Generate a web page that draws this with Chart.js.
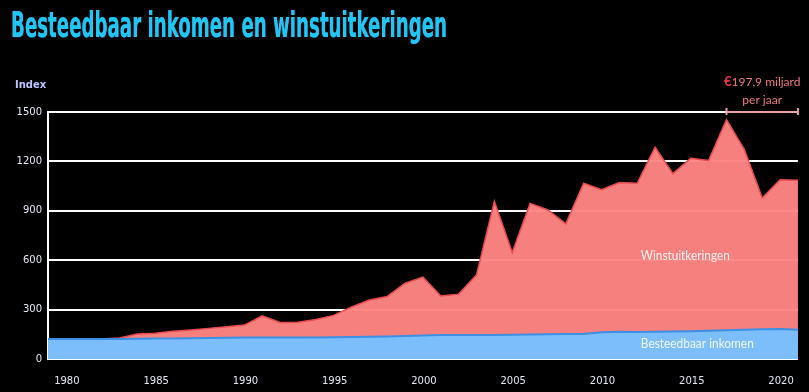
<!DOCTYPE html>
<html>
<head>
<meta charset="utf-8">
<script src="https://cdn.jsdelivr.net/npm/chart.js@4"></script>
<style>
  html, body { margin: 0; padding: 0; background: #000; }
  #wrap { position: relative; width: 809px; height: 392px; background: #000; overflow: hidden; }
  #title {
    position: absolute; left: 11px; top: 3px; margin: 0;
    font-family: "DejaVu Sans Condensed", "DejaVu Sans", sans-serif;
    font-weight: bold; font-size: 36px; line-height: 44px;
    color: #22c6f2; white-space: nowrap;
    transform-origin: 0 0;
    text-shadow: 0 0 1px #0a86c8;
  }
  canvas { position: absolute; left: 0; top: 0; }
</style>
</head>
<body>
<div id="wrap">
  <canvas id="c" width="809" height="392"></canvas>
  <h1 id="title">Besteedbaar inkomen en winstuitkeringen</h1>
</div>
<script>
// ---- data (index) ----
const jaren = [1979,1980,1981,1982,1983,1984,1985,1986,1987,1988,1989,1990,1991,1992,1993,1994,1995,1996,1997,1998,1999,2000,2001,2002,2003,2004,2005,2006,2007,2008,2009,2010,2011,2012,2013,2014,2015,2016,2017,2018,2019,2020,2021];
const besteedbaarInkomen = [121,121,121,121,122,123,124,125,126,127,129,130,131,131,131,131,132,133,135,137,140,143,145,145,146,146,147,149,151,152,152,162,165,164,165,167,169,171,174,177,180,182,178];
// top of the stacked band (besteedbaar inkomen + winstuitkeringen)
const winstuitkeringen = [121,121,121,122,128,152,157,168,176,186,196,206,262,222,223,240,265,316,358,380,460,497,383,394,511,957,647,945,905,821,1067,1028,1072,1067,1286,1126,1219,1205,1454,1272,978,1089,1085];
const xTickJaren = [1980,1985,1990,1995,2000,2005,2010,2015,2020];
const yTicks = [0,300,600,900,1200,1500];
const labelWinst = "Winstuitkeringen";
const labelInkomen = "Besteedbaar inkomen";
const annotRegel1 = "197,9 miljard";
const annotRegel2 = "per jaar";
const yTitel = "Index";

// fit title width
const t = document.getElementById('title');
const tw = t.getBoundingClientRect().width;
t.style.transform = 'scaleX(' + (436 / tw) + ')';

const annotations = {
  id: 'annotations',
  afterDatasetsDraw(chart) {
    const ctx = chart.ctx;
    const x = chart.scales.x, y = chart.scales.y;
    ctx.save();
    // area labels
    ctx.textBaseline = 'middle';
    ctx.textAlign = 'left';
    ctx.font = '14px Lato, "Open Sans", sans-serif';
    ctx.fillStyle = '#fff0ee';
    ctx.fillText(labelWinst, x.getPixelForValue(2012.2), y.getPixelForValue(628), 89);
    ctx.fillStyle = '#eef6ff';
    ctx.fillText(labelInkomen, x.getPixelForValue(2012.2), y.getPixelForValue(95), 113);

    // bracket 2017-2021
    const bx1 = x.getPixelForValue(2017), bx2 = x.getPixelForValue(2021);
    const by = y.getPixelForValue(1500);
    ctx.strokeStyle = '#e9a3a6';
    ctx.lineWidth = 2;
    ctx.beginPath();
    ctx.moveTo(bx1, by); ctx.lineTo(bx2, by);
    ctx.moveTo(bx1, by - 4); ctx.lineTo(bx1, by + 3);
    ctx.moveTo(bx2, by - 4); ctx.lineTo(bx2, by + 3);
    ctx.stroke();

    // annotation text
    const cx = (bx1 + bx2) / 2;
    ctx.font = '12px Lato, "Open Sans", sans-serif';
    const w1 = ctx.measureText(annotRegel1).width;
    ctx.font = 'bold 13px Lato, sans-serif';
    const we = ctx.measureText('€').width;
    const sx = cx - (w1 + we) / 2;
    ctx.fillStyle = '#e8323c';
    ctx.fillText('€', sx, by - 30);
    ctx.font = '12px Lato, "Open Sans", sans-serif';
    ctx.fillStyle = '#f07a80';
    ctx.fillText(annotRegel1, sx + we, by - 30);
    ctx.textAlign = 'center';
    ctx.fillText(annotRegel2, cx, by - 12);

    // y title
    ctx.textAlign = 'left';
    ctx.font = 'bold 10px "DejaVu Sans", sans-serif';
    ctx.fillStyle = '#bcc6ff';
    ctx.fillText(yTitel, 15, 85);
    ctx.restore();
  }
};

new Chart(document.getElementById('c'), {
  type: 'line',
  data: {
    datasets: [
      {
        label: labelInkomen,
        data: jaren.map((j, i) => ({ x: j, y: besteedbaarInkomen[i] })),
        borderColor: '#3c8fe2',
        borderWidth: 2,
        backgroundColor: 'rgba(120,192,255,0.97)',
        fill: 'origin',
        pointRadius: 0,
        tension: 0
      },
      {
        label: labelWinst,
        data: jaren.map((j, i) => ({ x: j, y: winstuitkeringen[i] })),
        borderColor: '#ea4a4e',
        borderWidth: 1.5,
        backgroundColor: 'rgba(255,133,131,0.965)',
        fill: 'origin',
        pointRadius: 0,
        tension: 0
      }
    ]
  },
  options: {
    responsive: false,
    animation: false,
    events: [],
    layout: { padding: { top: 112, right: 9, left: 0, bottom: 0 } },
    plugins: { legend: { display: false }, tooltip: { enabled: false }, title: { display: false } },
    scales: {
      x: {
        type: 'linear', min: 1979, max: 2021,
        afterBuildTicks: s => { s.ticks = xTickJaren.map(v => ({ value: v })); },
        afterFit: s => { s.height = 33; },
        grid: { display: false, drawTicks: false },
        border: { display: false },
        ticks: {
          callback: v => String(v),
          color: '#e4e7f6',
          font: { family: 'DejaVu Sans', size: 10 },
          padding: 16,
          labelOffset: 1,
          maxRotation: 0
        }
      },
      y: {
        min: 0, max: 1500,
        afterBuildTicks: s => { s.ticks = yTicks.map(v => ({ value: v })); },
        afterFit: s => { s.width = 48; },
        grid: { color: '#ffffff', lineWidth: 2, drawTicks: false },
        border: { display: true, color: '#ffffff', width: 2 },
        ticks: {
          callback: v => String(v),
          color: '#e4e7f6',
          font: { family: 'DejaVu Sans', size: 10 },
          padding: 6
        }
      }
    }
  },
  plugins: [annotations]
});
</script>
</body>
</html>
